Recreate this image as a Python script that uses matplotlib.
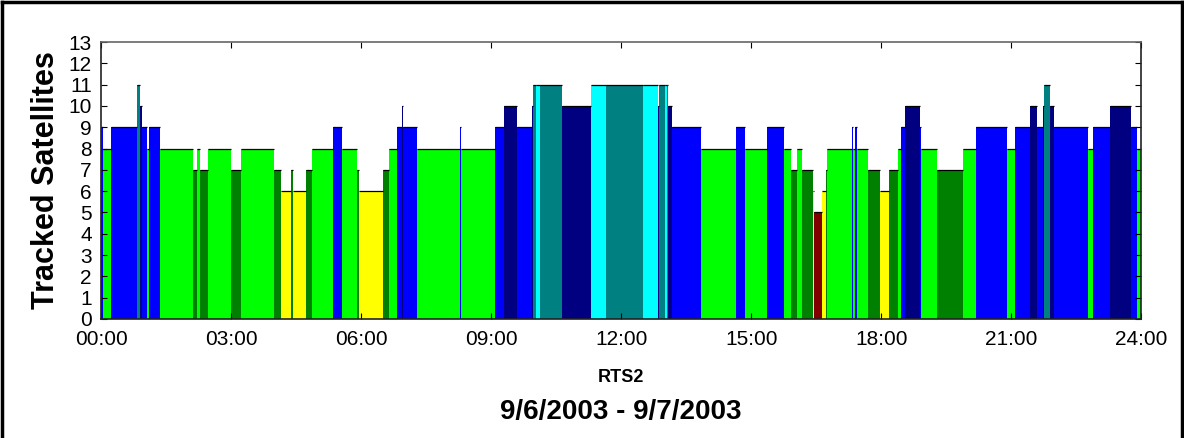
import matplotlib
matplotlib.use("Agg")
import matplotlib.pyplot as plt
from matplotlib.lines import Line2D
import numpy as np

# Tracked satellite count, one entry per constant interval (start hour, count)
seg_start = [0.00, 0.03, 0.21, 0.83, 0.88, 0.93, 1.06, 1.09, 1.35, 2.12,
             2.20, 2.28, 2.46, 2.98, 3.23, 3.98, 4.14, 4.38, 4.43, 4.73,
             4.86, 5.34, 5.55, 5.89, 5.94, 6.51, 6.63, 6.82, 6.94, 6.97,
             7.28, 8.28, 8.31, 9.08, 9.30, 9.59, 9.93, 9.97, 10.04, 10.13,
             10.64, 11.30, 11.65, 12.50, 12.85, 12.87, 13.02, 13.05, 13.09, 13.17,
             13.84, 14.64, 14.85, 15.36, 15.76, 15.92, 16.06, 16.18, 16.42, 16.45,
             16.64, 16.72, 16.75, 17.33, 17.36, 17.40, 17.45, 17.69, 17.98, 18.18,
             18.38, 18.46, 18.56, 18.89, 18.93, 19.30, 19.90, 20.18, 20.90, 21.09,
             21.43, 21.61, 21.74, 21.77, 21.89, 22.00, 22.77, 22.89, 23.29, 23.78,
             23.91]
seg_end = 24.0
sat_count = [9, 8, 9, 11, 10, 9, 8, 9, 8, 7,
             8, 7, 8, 7, 8, 7, 6, 7, 6, 7,
             8, 9, 8, 7, 6, 7, 8, 9, 10, 9,
             8, 9, 8, 9, 10, 9, 10, 11, 11, 11,
             10, 11, 11, 11, 10, 11, 11, 11, 10, 9,
             8, 9, 8, 9, 8, 7, 8, 7, 6, 5,
             6, 7, 8, 9, 8, 9, 8, 7, 6, 7,
             8, 9, 10, 9, 8, 7, 8, 9, 8, 9,
             10, 9, 10, 11, 10, 9, 8, 9, 10, 9,
             8]
# intervals where the 11-satellite solution is flagged differently
flagged = [38, 41, 43, 46]

hour_ticks = list(range(0, 25, 3))
hour_labels = [f"{h:02d}:00" for h in hour_ticks]

palette = {5: "#800000", 6: "#ffff00", 7: "#008000", 8: "#00ff00",
           9: "#0000ff", 10: "#000080", 11: "#008080"}

starts = np.array(seg_start)
ends = np.append(starts[1:], seg_end)
widths = ends - starts
colors = [palette[c] for c in sat_count]
for i in flagged:
    colors[i] = "#00ffff"

tick_font = ["Liberation Sans Narrow", "Liberation Sans", "DejaVu Sans"]
bold_font = ["Liberation Sans", "DejaVu Sans"]

fig = plt.figure(figsize=(11.84, 4.38), dpi=100)
ax = fig.add_axes([0.0857, 0.2717, 0.8780, 0.6324])

ax.bar(starts, sat_count, width=widths, align="edge", color=colors, linewidth=0)
ax.hlines(sat_count, starts, ends, colors="k", linewidth=0.9)

ax.set_xlim(0, 24)
ax.set_ylim(0, 13)
ax.set_xticks(hour_ticks)
ax.set_xticklabels(hour_labels, family=tick_font, fontsize=15)
ax.set_yticks(range(0, 14))
ax.set_yticklabels([str(v) for v in range(0, 14)], family=tick_font, fontsize=15)
ax.tick_params(direction="in", top=True, right=True, length=4, width=0.8)
ax.tick_params(axis="x", pad=8)
ax.tick_params(axis="y", pad=7)
for side in ["left", "bottom", "right"]:
    ax.spines[side].set_color("#222222")
ax.spines["top"].set_color("#666666")
for s in ax.spines.values():
    s.set_linewidth(1.2)

ax.set_ylabel("Tracked Satellites", family=bold_font, fontsize=22, fontweight="bold", labelpad=5)
ax.set_xlabel("RTS2", family=bold_font, fontsize=13, fontweight="bold", labelpad=14)
fig.text(0.5245, 0.06, "9/6/2003 - 9/7/2003", family=bold_font, fontsize=20,
         fontweight="bold", ha="center", va="center")

# frame around the figure (top, left, right)
fig.add_artist(Line2D([0.002, 0.998], [0.995, 0.995], color="k", lw=2.5))
fig.add_artist(Line2D([0.002, 0.002], [0.0, 0.995], color="k", lw=2.5))
fig.add_artist(Line2D([0.998, 0.998], [0.0, 0.995], color="k", lw=2.5))

fig.savefig("out.png", dpi=100)
